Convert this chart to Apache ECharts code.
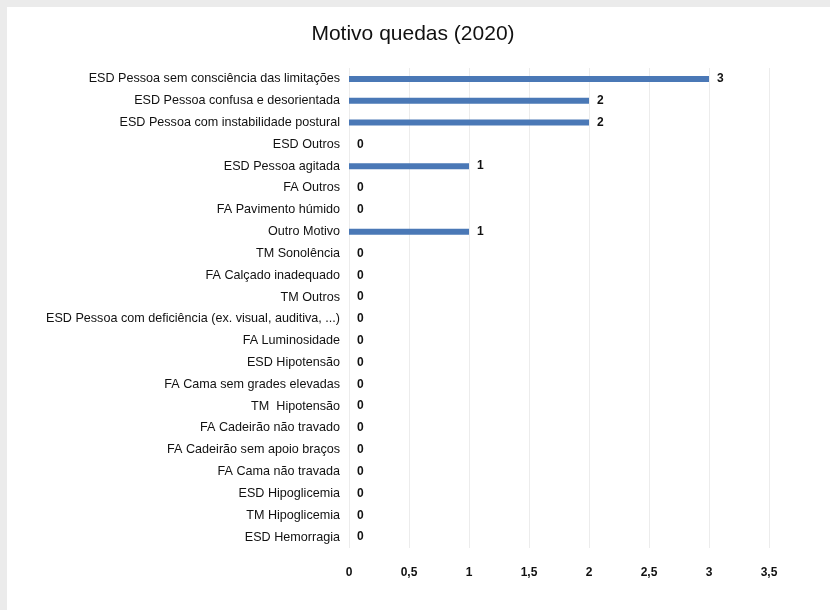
<!DOCTYPE html>
<html>
<head>
<meta charset="utf-8">
<script src="https://cdn.jsdelivr.net/npm/echarts@6/dist/echarts.min.js"></script>
<style>
html, body { margin: 0; padding: 0; background: #ebebeb; }
#motivoQuedas {
    position: absolute;
    left: 7px;
    top: 7px;
    width: 823px;
    height: 603px;
    background: #ffffff;
}
</style>
</head>
<body>
<div id="motivoQuedas"></div>
<script>
// categorias de cima para baixo
const categorias = [
    'ESD Pessoa sem consciência das limitações',
    'ESD Pessoa confusa e desorientada',
    'ESD Pessoa com instabilidade postural',
    'ESD Outros',
    'ESD Pessoa agitada',
    'FA Outros',
    'FA Pavimento húmido',
    'Outro Motivo',
    'TM Sonolência',
    'FA Calçado inadequado',
    'TM Outros',
    'ESD Pessoa com deficiência (ex. visual, auditiva, ...)',
    'FA Luminosidade',
    'ESD Hipotensão',
    'FA Cama sem grades elevadas',
    'TM  Hipotensão',
    'FA Cadeirão não travado',
    'FA Cadeirão sem apoio braços',
    'FA Cama não travada',
    'ESD Hipoglicemia',
    'TM Hipoglicemia',
    'ESD Hemorragia'
];
const quedas = [3, 2, 2, 0, 1, 0, 0, 1, 0, 0, 0, 0, 0, 0, 0, 0, 0, 0, 0, 0, 0, 0];
const eixoMin = 0;
const eixoMax = 3.5;
const eixoPasso = 0.5;

const fonte = '"Liberation Sans", sans-serif';

let myChart = echarts.init(document.getElementById('motivoQuedas'));
const option = {
    animation: false,
    title: {
        text: 'Motivo quedas (2020)',
        left: 401,
        top: 12,
        textAlign: 'center',
        textStyle: {
            fontFamily: fonte,
            fontSize: 21,
            fontWeight: 'normal',
            color: '#111111'
        }
    },
    grid: {
        left: 342,
        right: 61,
        top: 61,
        bottom: 62,
        containLabel: false
    },
    xAxis: {
        type: 'value',
        min: eixoMin,
        max: eixoMax,
        interval: eixoPasso,
        axisLine: { show: false },
        axisTick: { show: false },
        axisLabel: {
            margin: 19,
            color: '#111111',
            fontFamily: fonte,
            fontSize: 12,
            fontWeight: 'bold',
            formatter: function (v) {
                return String(v).replace('.', ',');
            }
        },
        splitLine: {
            show: true,
            lineStyle: { color: '#ececec', width: 1 }
        }
    },
    yAxis: {
        type: 'category',
        inverse: true,
        data: categorias,
        axisLine: { show: false },
        axisTick: { show: false },
        axisLabel: {
            margin: 9,
            color: '#111111',
            fontFamily: fonte,
            fontSize: 12.6
        }
    },
    series: [
        {
            type: 'bar',
            data: quedas,
            barWidth: 6,
            itemStyle: {
                color: '#4a78b6'
            },
            label: {
                show: true,
                position: 'right',
                distance: 8,
                color: '#111111',
                fontFamily: fonte,
                fontSize: 12,
                fontWeight: 'bold'
            }
        }
    ]
};
myChart.setOption(option);
</script>
</body>
</html>
